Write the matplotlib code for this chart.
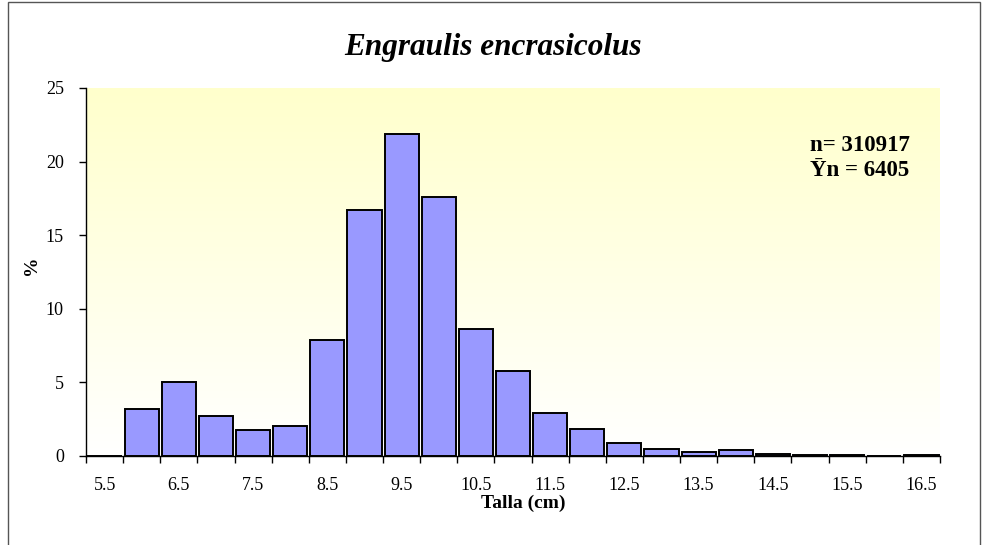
import numpy as np
import matplotlib.pyplot as plt
from matplotlib.patches import Rectangle

plt.rcParams["font.family"] = ["Liberation Serif", "DejaVu Serif"]

# length classes (cm) and percentage per class
TALLAS = ["5.5", "6.0", "6.5", "7.0", "7.5", "8.0", "8.5", "9.0", "9.5", "10.0",
          "10.5", "11.0", "11.5", "12.0", "12.5", "13.0", "13.5", "14.0", "14.5",
          "15.0", "15.5", "16.0", "16.5"]
PORCENTAJE = [0.0, 3.2, 5.0, 2.75, 1.77, 2.03, 7.88, 16.7, 21.9, 17.6,
              8.62, 5.76, 2.92, 1.83, 0.88, 0.46, 0.24, 0.4, 0.12,
              0.06, 0.06, 0.02, 0.1]

TITLE = "Engraulis encrasicolus"
N_TOTAL = "n= 310917"
N_MEAN = "\u0232n = 6405"

fig = plt.figure(figsize=(9.83, 5.45), dpi=100)
fig.patch.set_facecolor("white")

# outer chart frame
fig.patches.append(Rectangle((8 / 983, -0.01), 972 / 983, 1.0 - 2 / 545 + 0.01,
                             transform=fig.transFigure, fill=False,
                             edgecolor="#555555", linewidth=1.0))

ax = fig.add_axes([86 / 983, 89 / 545, 854 / 983, 368 / 545])

x = np.arange(len(TALLAS))

# background gradient: pale yellow at top fading to white
grad = np.linspace(0, 1, 256).reshape(-1, 1)
top = np.array([1.0, 1.0, 0.80])
bottom = np.array([1.0, 1.0, 1.0])
img = bottom + (top - bottom) * grad
ax.imshow(img[:, None, :].repeat(2, axis=1), extent=[-0.5, len(TALLAS) - 0.5, 0, 25],
          origin="lower", aspect="auto", zorder=0)

ax.bar(x, PORCENTAJE, width=0.92, color="#9999FF", edgecolor="black",
       linewidth=1.4, zorder=2)

ax.set_xlim(-0.5, len(TALLAS) - 0.5)
ax.set_ylim(0, 25)

ax.set_xticks(np.arange(-0.5, len(TALLAS), 1.0))
ax.set_xticklabels([])
ax.set_xticks(x[::2], minor=True)
ax.set_xticklabels(TALLAS[::2], minor=True)
ax.tick_params(axis="x", which="major", direction="out", length=5, width=1)
ax.tick_params(axis="x", which="minor", length=0, pad=15, labelsize=13)

ax.set_yticks([0, 5, 10, 15, 20, 25])
ax.tick_params(axis="y", direction="out", length=5, width=1, labelsize=13, pad=11)

for side in ["top", "right"]:
    ax.spines[side].set_visible(False)
for side in ["left", "bottom"]:
    ax.spines[side].set_linewidth(1.0)

fig.text(493 / 983, 1 - 48 / 545, TITLE, ha="center", va="center",
         fontsize=22.5, fontweight="bold", fontstyle="italic")
fig.text(523 / 983, 1 - 503 / 545, "Talla (cm)", ha="center", va="center",
         fontsize=14, fontweight="bold")
fig.text(31 / 983, 1 - 265 / 545, "%", ha="center", va="center",
         fontsize=14, fontweight="bold", rotation=90)

ax.text((910 - 86) / 854, (456 - 158) / 368, N_TOTAL + "\n" + N_MEAN,
        transform=ax.transAxes, ha="right", va="center", multialignment="left",
        fontsize=16.5, fontweight="bold", linespacing=1.3, zorder=3)

fig.savefig("out.png", dpi=100)
